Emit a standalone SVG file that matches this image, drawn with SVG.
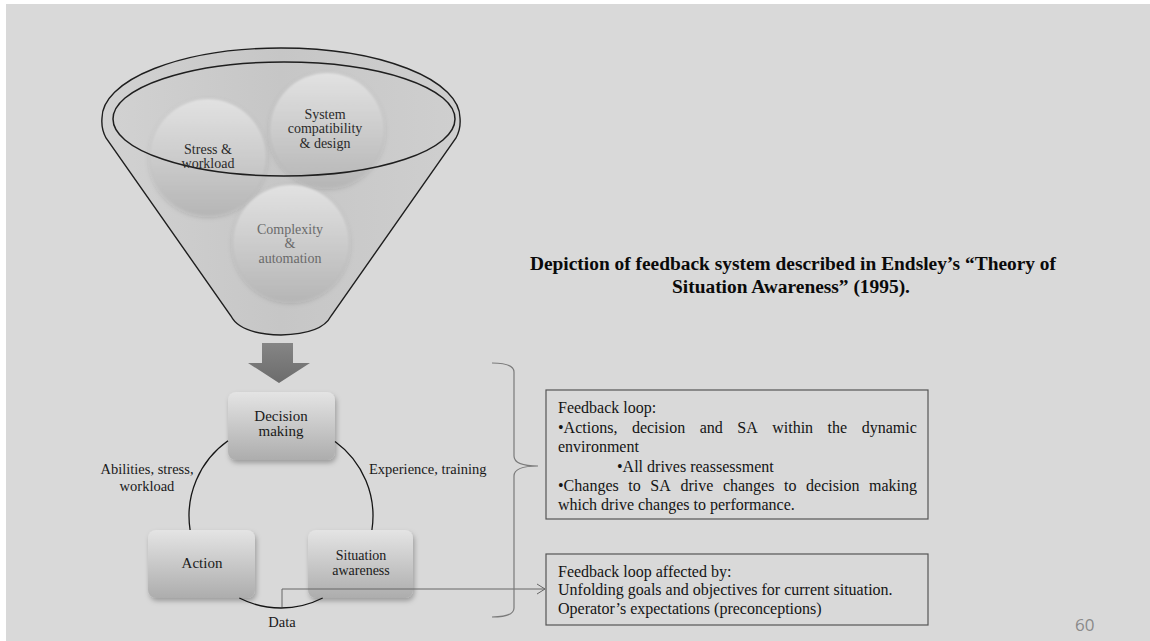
<svg xmlns="http://www.w3.org/2000/svg" width="1150" height="641" viewBox="0 0 1150 641">
<style>
.serif{font-family:"Liberation Serif","Times New Roman",serif;}
.ft{font-size:14px;text-anchor:middle;fill:#2a2a2a;}
.ft2{font-size:14px;text-anchor:middle;fill:#6a6a6a;}
.nt{font-size:15px;text-anchor:middle;fill:#1a1a1a;}
.nt2{font-size:14px;text-anchor:middle;fill:#1a1a1a;}
.lb{font-size:14.5px;fill:#1a1a1a;}
.bx{font-size:16px;fill:#141414;}
.title{font-size:19.4px;font-weight:bold;text-anchor:middle;fill:#0a0a0a;}
.box{fill:url(#boxg);filter:url(#shadow);}
.tbox{fill:none;stroke:#555;stroke-width:1.2;}
.arc{fill:none;stroke:#151515;stroke-width:1.3;}
.ball{filter:url(#soft);}
</style>
<defs>
<linearGradient id="boxg" x1="0" y1="0" x2="0" y2="1">
<stop offset="0" stop-color="#e4e4e4"/>
<stop offset="1" stop-color="#adadad"/>
</linearGradient>
<linearGradient id="ballg" x1="0" y1="0" x2="0" y2="1">
<stop offset="0" stop-color="#e2e2e2"/>
<stop offset="1" stop-color="#b6b6b6"/>
</linearGradient>
<linearGradient id="funnelg" x1="0" y1="0" x2="1" y2="0">
<stop offset="0" stop-color="#d2d2d2"/>
<stop offset="0.5" stop-color="#c6c6c6"/>
<stop offset="1" stop-color="#cfcfcf"/>
</linearGradient>
<linearGradient id="arrowg" x1="0" y1="0" x2="0" y2="1">
<stop offset="0" stop-color="#858585"/>
<stop offset="1" stop-color="#6c6c6c"/>
</linearGradient>
<filter id="shadow" x="-20%" y="-20%" width="140%" height="150%">
<feDropShadow dx="1.5" dy="3" stdDeviation="2.5" flood-color="#000" flood-opacity="0.28"/>
</filter>
<filter id="soft" x="-20%" y="-20%" width="140%" height="140%">
<feGaussianBlur stdDeviation="1.2" result="b"/>
<feDropShadow dx="0" dy="2" stdDeviation="2.5" flood-color="#000" flood-opacity="0.18"/>
</filter>
<marker id="open" viewBox="0 0 10 12" refX="9" refY="6" markerWidth="10" markerHeight="12" markerUnits="userSpaceOnUse" orient="auto">
<path d="M1,1 L9,6 L1,11" fill="none" stroke="#666" stroke-width="1"/>
</marker>
</defs>

<rect x="0" y="0" width="1150" height="641" fill="#ffffff"/>
<rect x="6" y="4" width="1144" height="637" fill="#d9d9d9"/>

<g id="funnel">
<path d="M102,118 A179,70 0 0 1 460,118 Q461,129 456,138 L331,316 Q322,334 281,335 Q240,334 231,316 L106,138 Q101,129 102,118 Z" fill="url(#funnelg)" stroke="#1e1e1e" stroke-width="1.4"/>
<g id="stress">
<circle class="ball" cx="208" cy="157" r="58" fill="url(#ballg)"/>
</g>
<g id="system">
<circle class="ball" cx="327" cy="130" r="57" fill="url(#ballg)"/>
</g>
<g id="complexity">
<circle class="ball" cx="291" cy="243" r="58" fill="url(#ballg)"/>
</g>
<ellipse cx="284" cy="119" rx="171" ry="57" fill="none" stroke="#1e1e1e" stroke-width="1.5"/>
<text class="serif ft" x="208" y="154">Stress &amp;</text>
<text class="serif ft" x="208" y="168">workload</text>
<text class="serif ft" x="325" y="119">System</text>
<text class="serif ft" x="325" y="133">compatibility</text>
<text class="serif ft" x="325" y="148">&amp; design</text>
<text class="serif ft2" x="290" y="234">Complexity</text>
<text class="serif ft2" x="290" y="248">&amp;</text>
<text class="serif ft2" x="290" y="262.5">automation</text>
</g>

<g id="down-arrow">
<path d="M262,343 L293,343 L293,363 L310,363 L279,383 L248,363 L262,363 Z" fill="url(#arrowg)"/>
</g>

<g id="decision">
<rect class="box" x="228" y="392" width="107" height="68" rx="8"/>
<text class="serif nt" x="281" y="421">Decision</text>
<text class="serif nt" x="281" y="436">making</text>
</g>
<g id="action">
<rect class="box" x="148" y="530" width="107" height="68" rx="8"/>
<text class="serif nt" x="202" y="567.5">Action</text>
</g>
<g id="situation">
<rect class="box" x="308" y="530" width="105" height="68" rx="8"/>
<text class="serif nt2" x="361" y="560">Situation</text>
<text class="serif nt2" x="361" y="574.5">awareness</text>
</g>

<g id="connectors">
<path class="arc" d="M228,440.8 A92,92 0 0 0 190.1,530"/>
<path class="arc" d="M335,441.5 A92,92 0 0 1 371.9,530"/>
<path class="arc" d="M239.3,598 A92,92 0 0 0 322.7,598"/>
<path d="M282,607 L282,589 L545,589" fill="none" stroke="#666" stroke-width="1" marker-end="url(#open)"/>
<path d="M492,363 Q514,363 514,372 L514,456 Q514,466 538,466 Q514,466 514,476 L514,608 Q514,617 492,617" fill="none" stroke="#7a7a7a" stroke-width="1.2"/>
</g>

<g id="labels">
<text class="serif lb" x="147" y="474" text-anchor="middle">Abilities, stress,</text>
<text class="serif lb" x="147" y="490.5" text-anchor="middle">workload</text>
<text class="serif lb" x="369" y="474">Experience, training</text>
<text class="serif lb" x="282" y="626.5" text-anchor="middle">Data</text>
</g>

<g id="title">
<text class="serif title" x="793" y="270">Depiction of feedback system described in Endsley’s “Theory of</text>
<text class="serif title" x="791" y="292.7">Situation Awareness” (1995).</text>
</g>

<g id="feedback-box">
<rect class="tbox" x="546" y="390" width="382" height="129"/>
<text class="serif bx" x="558" y="413">Feedback loop:</text>
<text class="serif bx" y="433"><tspan x="558">•Actions,</tspan><tspan x="631.9">decision</tspan><tspan x="699.7">and</tspan><tspan x="737.3">SA</tspan><tspan x="772.2">within</tspan><tspan x="827.6">the</tspan><tspan x="861.7">dynamic</tspan></text>
<text class="serif bx" x="558" y="452">environment</text>
<text class="serif bx" x="617" y="472">•All drives reassessment</text>
<text class="serif bx" y="491"><tspan x="558">•Changes</tspan><tspan x="628.3">to</tspan><tspan x="650.3">SA</tspan><tspan x="680.4">drive</tspan><tspan x="722.9">changes</tspan><tspan x="784">to</tspan><tspan x="806.1">decision</tspan><tspan x="869">making</tspan></text>
<text class="serif bx" x="558" y="510">which drive changes to performance.</text>
</g>

<g id="affected-box">
<rect class="tbox" x="546" y="554" width="382" height="71"/>
<text class="serif bx" x="558" y="577">Feedback loop affected by:</text>
<text class="serif bx" x="558" y="595.3">Unfolding goals and objectives for current situation.</text>
<text class="serif bx" x="558" y="613.5">Operator’s expectations (preconceptions)</text>
</g>

<text x="1075" y="631" font-family="'Open Sans','Liberation Sans',sans-serif" font-size="17" fill="#8a8a8a">60</text>
</svg>
